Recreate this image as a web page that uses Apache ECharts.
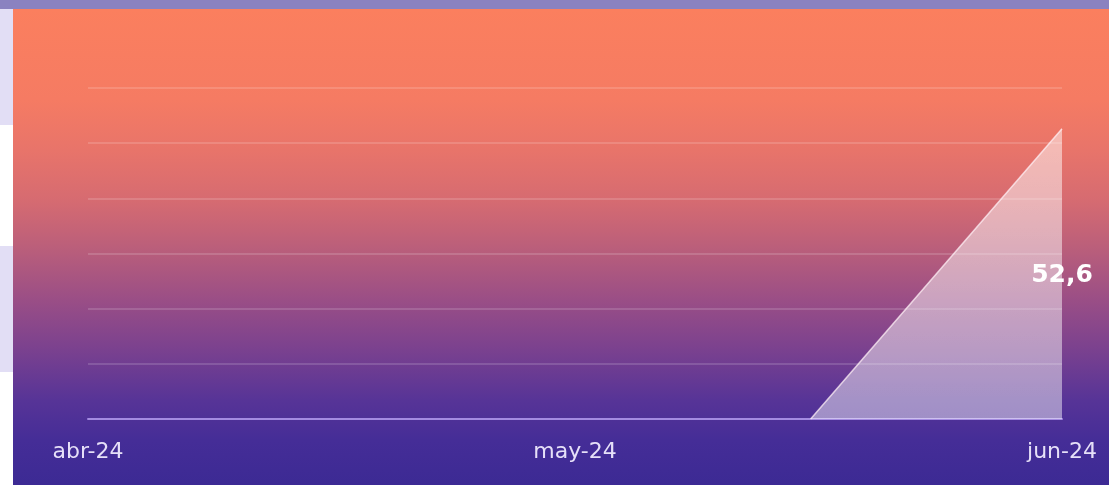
<!DOCTYPE html>
<html>
<head>
<meta charset="utf-8">
<script src="https://cdn.jsdelivr.net/npm/echarts@6/dist/echarts.min.js"></script>
<style>
  html, body { margin: 0; padding: 0; width: 1109px; height: 485px; overflow: hidden; background: #ffffff; }
  #topbar { position: absolute; left: 0; top: 0; width: 1109px; height: 9px; background: #8a82c0; }
  #side1 { position: absolute; left: 0; top: 9px; width: 13px; height: 116px; background: #e2def5; }
  #side2 { position: absolute; left: 0; top: 246px; width: 13px; height: 126px; background: #e2def5; }
  #panel {
    position: absolute; left: 13px; top: 9px; width: 1096px; height: 476px;
    background: linear-gradient(to bottom,
      #fb7f5e 0px, #f57b63 91px, #e8746a 141px, #d66b71 191px, #b95e7b 241px,
      #9a4e86 291px, #7a418f 341px, #573497 391px, #452d97 431px, #3c2a94 476px);
  }
  #chart { position: absolute; left: 0; top: 0; width: 1109px; height: 485px; }
</style>
</head>
<body>
<div id="topbar"></div>
<div id="side1"></div>
<div id="side2"></div>
<div id="panel"></div>
<div id="chart"></div>
<script>
// Month tick labels along the x axis (one per month, evenly spaced)
const monthLabels = ['abr-24', 'may-24', 'jun-24'];
const firstMonth = { year: 2024, month: 4 };

// Series: dates and values
const dates = ['2024-05-16', '2024-06-01'];
const values = [0, 52.6];

// Y scale
const yMin = 0, yMax = 60, yStep = 10;

// Convert a date into a fractional month position (0 = first month)
function monthPos(dateStr) {
  const [y, m, d] = dateStr.split('-').map(Number);
  const dim = new Date(y, m, 0).getDate();
  return (y - firstMonth.year) * 12 + (m - firstMonth.month) + (d - 1) / dim;
}

const lastIdx = values.length - 1;
const seriesData = dates.map((d, i) => {
  const item = { value: [monthPos(d), values[i]] };
  if (i === lastIdx) {
    item.label = {
      show: true,
      position: 'inside',
      formatter: (p) => String(p.value[1]).replace('.', ','),
      color: '#ffffff',
      fontFamily: 'DejaVu Sans',
      fontWeight: 'bold',
      fontSize: 25
    };
  }
  return item;
});

const chart = echarts.init(document.getElementById('chart'), null, { renderer: 'canvas' });

const option = {
  backgroundColor: 'transparent',
  animation: false,
  grid: { left: 88, right: 47, top: 88, bottom: 66, containLabel: false },
  xAxis: {
    type: 'value',
    min: 0,
    max: monthLabels.length - 1,
    interval: 1,
    axisLine: { show: true, lineStyle: { color: 'rgba(175,150,235,0.85)', width: 2 } },
    axisTick: { show: false },
    splitLine: { show: false },
    axisLabel: {
      formatter: (v) => monthLabels[Math.round(v)] || '',
      color: '#e6e0f8',
      fontFamily: 'DejaVu Sans',
      fontSize: 22,
      margin: 22,
      showMinLabel: true,
      showMaxLabel: true
    }
  },
  yAxis: {
    type: 'value',
    min: yMin,
    max: yMax,
    interval: yStep,
    axisLine: { show: false },
    axisTick: { show: false },
    axisLabel: { show: false },
    splitLine: { show: true, lineStyle: { color: 'rgba(255,255,255,0.15)', width: 2 } }
  },
  series: [{
    type: 'line',
    data: seriesData,
    showSymbol: true,
    symbol: 'circle',
    symbolSize: 1,
    itemStyle: { color: 'rgba(255,255,255,0)' },
    smooth: false,
    lineStyle: { color: 'rgba(255,240,245,0.75)', width: 1.5 },
    areaStyle: {
      color: new echarts.graphic.LinearGradient(0, 0, 0, 1, [
        { offset: 0, color: 'rgba(255,255,255,0.72)' },
        { offset: 1, color: 'rgba(255,255,255,0.66)' }
      ])
    },
    z: 3
  }]
};

chart.setOption(option);

// Place the value label halfway down the filled area under the last point
const peakPx = chart.convertToPixel({ gridIndex: 0 }, seriesData[lastIdx].value);
const basePx = chart.convertToPixel({ gridIndex: 0 }, [seriesData[lastIdx].value[0], yMin]);
seriesData[lastIdx].label.offset = [0, (basePx[1] - peakPx[1]) / 2 + 2];
chart.setOption({ series: [{ data: seriesData }] });
</script>
</body>
</html>
